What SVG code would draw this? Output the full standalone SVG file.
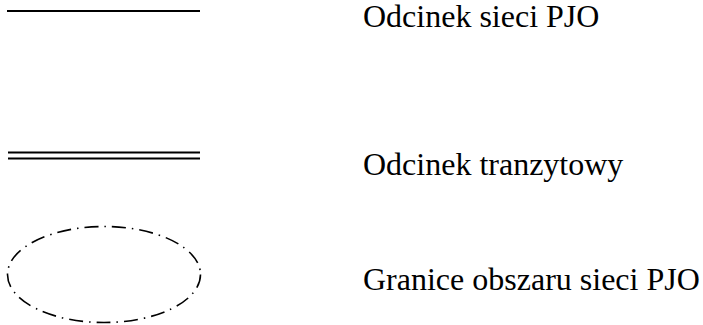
<svg xmlns="http://www.w3.org/2000/svg" width="703" height="325" viewBox="0 0 703 325">
<style>
.lbl{font-family:'Liberation Serif','Times New Roman',serif;font-size:32px;fill:#000}
.ln{stroke:#000;stroke-width:2;fill:none}
</style>
<rect width="703" height="325" fill="#fff"/>
<g id="legend-pjo">
<line class="ln" x1="7" y1="11" x2="200" y2="11"/>
<text class="lbl" x="363" y="27">Odcinek sieci PJO</text>
</g>
<g id="legend-transit">
<line class="ln" x1="8" y1="152.5" x2="200" y2="152.5"/>
<line class="ln" x1="8" y1="158.5" x2="200" y2="158.5"/>
<text class="lbl" x="363" y="175">Odcinek tranzytowy</text>
</g>
<g id="legend-boundary">
<ellipse cx="104" cy="274.5" rx="96.5" ry="48" fill="none" stroke="#000" stroke-width="1.6" stroke-dasharray="14 6 1.5 6"/>
<text class="lbl" x="363" y="290">Granice obszaru sieci PJO</text>
</g>
</svg>
